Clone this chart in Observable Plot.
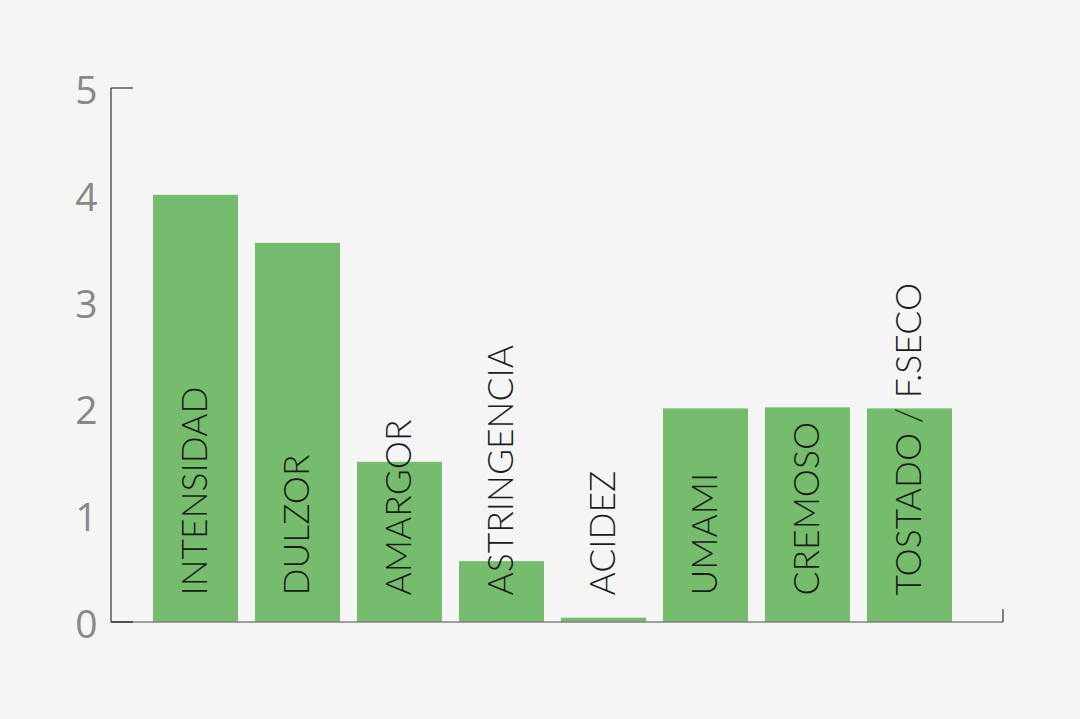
<!DOCTYPE html>
<html>
<head>
<meta charset="utf-8">
<script src="https://cdn.jsdelivr.net/npm/d3@7"></script>
<script src="https://cdn.jsdelivr.net/npm/@observablehq/plot@0.6"></script>
<style>
  html, body { margin: 0; padding: 0; background: #f5f5f5; }
  #chart svg { display: block; }
</style>
</head>
<body>
<div id="chart"></div>
<script>
// Perfil sensorial: atributos y puntuaciones (escala 0–5)
const atributos = ["INTENSIDAD", "DULZOR", "AMARGOR", "ASTRINGENCIA", "ACIDEZ", "UMAMI", "CREMOSO", "TOSTADO / F.SECO"];
const puntuaciones = [4.0, 3.55, 1.5, 0.57, 0.04, 2.0, 2.01, 2.0];
const ticksY = [0, 1, 2, 3, 4, 5];

const datos = atributos.map((a, i) => ({atributo: a, valor: puntuaciones[i]}));

// Axis frame: left vertical line with a short cap at the top,
// and a small end tick at the right of the baseline.
function marco(index, scales, values, dims) {
  const svg = d3.create("svg:g");
  const x0 = dims.marginLeft;
  const x1 = dims.width - dims.marginRight;
  const y0 = scales.y(0);
  const yTop = scales.y(5);
  svg.append("line")
    .attr("x1", x0).attr("x2", x1).attr("y1", y0).attr("y2", y0)
    .attr("stroke", "#808080").attr("stroke-width", 1.5);
  svg.append("line")
    .attr("x1", x0).attr("x2", x0 + 22).attr("y1", y0).attr("y2", y0)
    .attr("stroke", "#333").attr("stroke-width", 1.5);
  svg.append("line")
    .attr("x1", x0).attr("x2", x0).attr("y1", yTop).attr("y2", y0)
    .attr("stroke", "#333").attr("stroke-width", 1.2);
  svg.append("line")
    .attr("x1", x0).attr("x2", x0 + 22).attr("y1", yTop).attr("y2", yTop)
    .attr("stroke", "#333").attr("stroke-width", 1.2);
  svg.append("line")
    .attr("x1", x1).attr("x2", x1).attr("y1", y0 - 13).attr("y2", y0)
    .attr("stroke", "#333").attr("stroke-width", 1.2);
  return svg.node();
}

const chart = Plot.plot({
  width: 1080,
  height: 719,
  marginLeft: 111,
  marginRight: 77,
  marginTop: 88,
  marginBottom: 97,
  style: {background: "#f5f5f5", fontFamily: "Lato, 'Open Sans', sans-serif"},
  x: {domain: atributos, paddingInner: 0.17, paddingOuter: 0.44, align: 0.455, axis: null},
  y: {domain: [0, 5], ticks: ticksY, label: null},
  marks: [
    Plot.axisY(ticksY, {
      tickSize: 0, tickPadding: 14, tickFormat: d3.format("d"), label: null,
      fontSize: 39, fill: "#888", dy: 3, fontFamily: "'Open Sans', sans-serif"
    }),
    Plot.barY(datos, {x: "atributo", y: "valor", fill: "#76bc6d"}),
    Plot.text(datos, {
      x: "atributo", y: () => 0, text: "atributo",
      rotate: -90, textAnchor: "start", dy: -27,
      fontSize: 35.5, fill: "#1a1a1a", fontWeight: 300
    }),
    marco
  ]
});

document.getElementById("chart").append(chart);
</script>
</body>
</html>
